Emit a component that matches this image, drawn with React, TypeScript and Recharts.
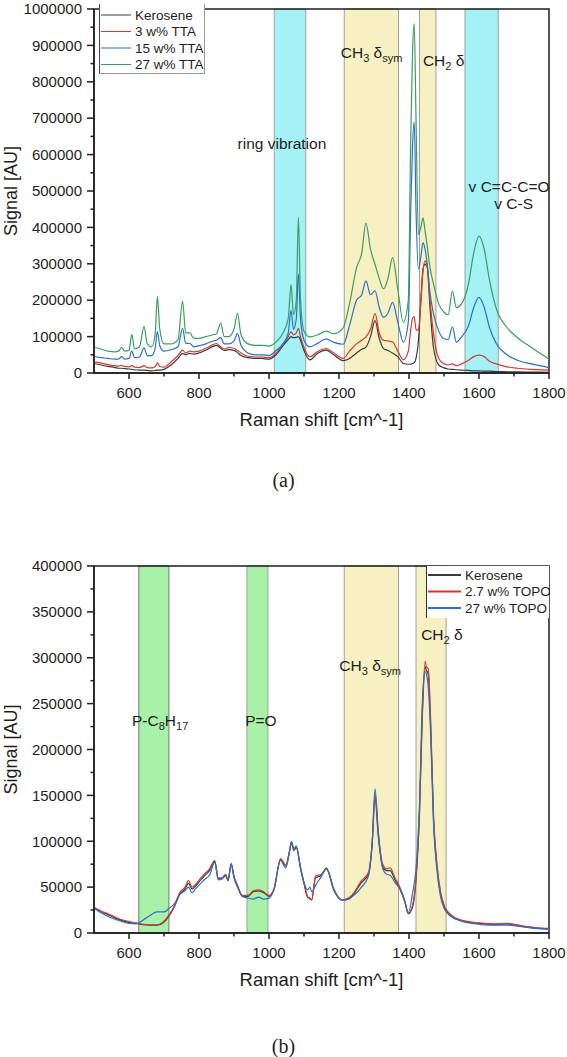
import React from "react";
import { ComposedChart, Line, XAxis, YAxis, ReferenceArea, Legend } from "recharts";

// ---- (a) kerosene + TTA spectra ----
const shiftA = [
  500, 520, 540, 560, 570, 579, 588, 600, 608, 616,
  630, 643, 652, 665, 675, 681, 688, 700, 720, 740,
  753, 762, 774, 785, 800, 820, 840, 850, 862, 872,
  885, 900, 910, 920, 940, 960, 980, 1000, 1020, 1040,
  1055, 1063, 1070, 1078, 1084, 1090, 1100, 1117, 1140, 1163,
  1185, 1212, 1230, 1250, 1265, 1277, 1290, 1303, 1315, 1327,
  1340, 1353, 1368, 1384, 1398, 1405, 1410, 1415, 1420, 1427,
  1434, 1440, 1446, 1452, 1460, 1470, 1485, 1500, 1512, 1524,
  1535, 1550, 1570, 1585, 1600, 1615, 1630, 1650, 1680, 1710,
  1750, 1800,
];
const keroseneA = [
  26000, 22000, 18000, 15000, 13000, 13000, 12000, 11000, 10000, 9000,
  8000, 8000, 7000, 6000, 7000, 8000, 8000, 10000, 22000, 40000,
  54000, 50000, 54000, 52000, 55000, 63000, 73000, 76000, 68000, 62000,
  64000, 62000, 56000, 48000, 42000, 40000, 40000, 38000, 50000, 75000,
  92000, 100000, 97000, 98000, 100000, 90000, 62000, 36000, 55000, 63000,
  50000, 34000, 40000, 55000, 65000, 71000, 100000, 144000, 95000, 67000,
  62000, 55000, 45000, 26000, 24000, 24000, 26000, 28000, 40000, 90000,
  200000, 285000, 299000, 290000, 180000, 70000, 22000, 14000, 11000, 10000,
  9000, 8000, 7000, 6000, 6000, 5000, 5000, 4000, 3500, 3000,
  2500, 2000,
];
const tta3 = [
  31000, 27000, 23000, 20000, 19000, 21000, 18000, 17000, 20000, 16000,
  15000, 20000, 15000, 14000, 18000, 28000, 18000, 16000, 30000, 48000,
  63000, 55000, 60000, 58000, 60000, 68000, 78000, 81000, 72000, 66000,
  70000, 68000, 62000, 55000, 46000, 44000, 44000, 42000, 55000, 80000,
  100000, 113000, 105000, 110000, 123000, 100000, 70000, 44500, 60000, 67000,
  55000, 40000, 60000, 80000, 90000, 99000, 120000, 163000, 110000, 90000,
  88000, 85000, 60000, 36000, 60000, 120000, 150000, 155000, 120000, 117000,
  200000, 280000, 308000, 295000, 200000, 108000, 40000, 25000, 22000, 25000,
  20000, 25000, 35000, 45000, 49000, 45000, 32000, 25000, 17000, 13000,
  10000, 8000,
];
const tta15 = [
  46000, 42000, 40000, 38000, 38000, 45000, 38000, 40000, 60000, 42000,
  44000, 69000, 48000, 48000, 70000, 114000, 75000, 60000, 64000, 72000,
  123000, 82000, 81000, 72000, 75000, 80000, 88000, 90000, 97000, 80000,
  80000, 88000, 108000, 76000, 55000, 50000, 50000, 48000, 62000, 80000,
  110000, 172000, 120000, 150000, 272000, 150000, 90000, 72000, 82000, 94000,
  84000, 79000, 130000, 200000, 215000, 253000, 215000, 226000, 180000, 153000,
  165000, 194000, 140000, 85000, 140000, 450000, 620000, 690000, 450000, 285000,
  320000, 358000, 340000, 300000, 220000, 163000, 115000, 94000, 92000, 127000,
  85000, 99000, 130000, 180000, 208000, 180000, 125000, 80000, 50000, 35000,
  25000, 15000,
];
const tta27 = [
  70000, 66000, 60000, 58000, 60000, 70000, 60000, 62000, 106000, 66000,
  72000, 128000, 80000, 72000, 110000, 210000, 120000, 80000, 80000, 92000,
  197000, 110000, 110000, 95000, 95000, 100000, 105000, 108000, 137000, 100000,
  100000, 120000, 164000, 105000, 80000, 76000, 76000, 74000, 85000, 110000,
  150000, 243000, 160000, 200000, 428000, 200000, 115000, 99000, 105000, 115000,
  108000, 124000, 190000, 289000, 330000, 412000, 340000, 298000, 260000, 231000,
  260000, 317000, 230000, 140000, 200000, 650000, 880000, 960000, 700000, 380000,
  400000, 426000, 390000, 350000, 290000, 244000, 190000, 167000, 160000, 226000,
  180000, 190000, 245000, 330000, 376000, 340000, 255000, 175000, 125000, 97000,
  70000, 38000,
];

// ---- (b) kerosene + TOPO spectra ----
const shiftB = [
  500, 520, 540, 560, 580, 600, 620, 640, 660, 680,
  700, 715, 730, 745, 760, 770, 780, 790, 805, 815,
  830, 845, 855, 865, 876, 883, 892, 900, 910, 924,
  940, 955, 970, 985, 1000, 1014, 1033, 1048, 1058, 1064,
  1071, 1078, 1090, 1100, 1110, 1117, 1122, 1133, 1150, 1164,
  1186, 1208, 1227, 1245, 1262, 1284, 1295, 1303, 1312, 1325,
  1336, 1346, 1360, 1374, 1388, 1398, 1410, 1420, 1430, 1438,
  1446, 1450, 1455, 1462, 1470, 1480, 1490, 1503, 1520, 1550,
  1600, 1650, 1680, 1720, 1760, 1800,
];
const keroseneB = [
  27500, 23500, 20000, 16500, 13500, 11500, 10500, 9000, 8500, 8500,
  12000, 19000, 29000, 42000, 48000, 54000, 48000, 51000, 58000, 62000,
  68000, 78000, 59000, 59000, 63000, 57000, 75000, 61000, 51000, 40000,
  40000, 45000, 46000, 44000, 40000, 47000, 80000, 73000, 88000, 98000,
  90000, 93000, 71000, 54000, 39000, 38000, 36000, 60000, 63000, 70000,
  46000, 36000, 37000, 44000, 54000, 64000, 98000, 148000, 106000, 72000,
  68000, 68000, 58000, 48000, 34000, 21000, 28000, 58000, 130000, 235000,
  290000, 286000, 282000, 225000, 125000, 72000, 43000, 27000, 19000, 13500,
  10500, 9500, 10000, 7500, 5500, 4500,
];
const topo2_7 = [
  28000, 24000, 21000, 17500, 14500, 12500, 11000, 9500, 9000, 9000,
  13000, 20000, 30000, 44000, 50000, 57000, 50000, 53000, 60000, 64000,
  70000, 79000, 60000, 60000, 64000, 58000, 76000, 62000, 52000, 41000,
  41000, 46000, 47000, 45000, 41000, 48000, 81000, 74000, 88000, 99000,
  91000, 94000, 72000, 55000, 40000, 37000, 36000, 62000, 64000, 70500,
  47000, 36000, 38000, 45000, 56000, 66000, 100000, 152000, 110000, 75000,
  70000, 71000, 60000, 50000, 35000, 21000, 30000, 60000, 135000, 240000,
  296000, 290000, 288000, 230000, 130000, 75000, 45000, 28000, 20000, 14000,
  11000, 10000, 10500, 8000, 6000, 5000,
];
const topo27 = [
  27000, 22000, 18000, 15000, 12500, 10500, 10000, 14000, 19000, 23000,
  23000, 27000, 32000, 42000, 46000, 50000, 44000, 48000, 54000, 58000,
  63000, 77000, 58000, 59000, 62000, 57000, 75000, 60000, 50000, 40000,
  38000, 37000, 39000, 37000, 38000, 47000, 79000, 71000, 87000, 100000,
  92000, 95000, 70000, 55000, 47000, 50000, 45000, 52000, 62000, 71000,
  47000, 36000, 37000, 42000, 49000, 62000, 100000, 157000, 112000, 70000,
  64000, 63000, 55000, 48000, 35000, 22000, 43000, 70000, 140000, 250000,
  285000, 282000, 268000, 215000, 120000, 68000, 40000, 25000, 18000, 13000,
  9500, 8500, 8500, 7000, 5000, 4000,
];

const xTicks = [600, 700, 800, 900, 1000, 1100, 1200, 1300, 1400, 1500, 1600, 1700, 1800];
const yTicksA = [
  0, 50000, 100000, 150000, 200000, 250000, 300000, 350000, 400000, 450000, 500000,
  550000, 600000, 650000, 700000, 750000, 800000, 850000, 900000, 950000, 1000000,
];
const yTicksB = [
  0, 25000, 50000, 75000, 100000, 125000, 150000, 175000, 200000,
  225000, 250000, 275000, 300000, 325000, 350000, 375000, 400000,
];

const rowsA = shiftA.map((s, i) => ({
  shift: s,
  kerosene: keroseneA[i],
  tta3: tta3[i],
  tta15: tta15[i],
  tta27: tta27[i],
}));
const rowsB = shiftB.map((s, i) => ({
  shift: s,
  kerosene: keroseneB[i],
  topo2_7: topo2_7[i],
  topo27: topo27[i],
}));

const INK = "#1e1e1e";
const CYAN = "#a4f1f6";
const SAND = "#f6f0c2";
const MINT = "#a9f0a9";
const EDGE = "#a0a0a0";

// series order = draw order = legend order
const seriesA = [
  { key: "kerosene", name: "Kerosene", color: "#3a3a3a" },
  { key: "tta3", name: "3 w% TTA", color: "#d23a32" },
  { key: "tta15", name: "15 w% TTA", color: "#2a70c6" },
  { key: "tta27", name: "27 w% TTA", color: "#3c9d62" },
];
const seriesB = [
  { key: "kerosene", name: "Kerosene", color: "#3a3a3a" },
  { key: "topo2_7", name: "2.7 w% TOPO", color: "#d23a32" },
  { key: "topo27", name: "27 w% TOPO", color: "#2a70c6" },
];

const XTick = (props: any) => {
  const { x, y, payload } = props;
  const major = payload.value % 200 === 0;
  return (
    <g>
      <line x1={x} x2={x} y1={y} y2={y + (major ? 6 : 3.5)} stroke={INK} strokeWidth={1.5} />
      {major && (
        <text x={x} y={y + 25} textAnchor="middle" fontSize={15} fill={INK}>
          {payload.value}
        </text>
      )}
    </g>
  );
};

const makeYTick = (step: number) => (props: any) => {
  const { x, y, payload } = props;
  const major = payload.value % step === 0;
  return (
    <g>
      <line x1={x - (major ? 7 : 3.5)} x2={x} y1={y} y2={y} stroke={INK} strokeWidth={1.5} />
      {major && (
        <text x={x - 12} y={y} dy="0.35em" textAnchor="end" fontSize={15} fill={INK}>
          {payload.value}
        </text>
      )}
    </g>
  );
};

const XTitle = ({ viewBox }: any) => (
  <text x={viewBox.x + viewBox.width / 2} y={viewBox.y + 53} textAnchor="middle" fontSize={18.5} fill={INK}>
    Raman shift [cm^-1]
  </text>
);

const YTitle = ({ viewBox }: any) => {
  const cy = viewBox.y + viewBox.height / 2;
  return (
    <text transform={`translate(17, ${cy}) rotate(-90)`} textAnchor="middle" fontSize={18} fill={INK}>
      Signal [AU]
    </text>
  );
};

// centred annotation text; rendered as the label of a tiny invisible area
const Note = ({ viewBox, children }: any) => (
  <text
    x={viewBox.x + viewBox.width / 2}
    y={viewBox.y + viewBox.height / 2}
    dy="0.35em"
    textAnchor="middle"
    fontSize={15.5}
    fill={INK}
  >
    {children}
  </text>
);

const note = (key: string, cx: number, cy: number, body: React.ReactNode) => (
  <ReferenceArea
    key={key}
    x1={cx - 1}
    x2={cx + 1}
    y1={cy - 1}
    y2={cy + 1}
    fill="none"
    stroke="none"
    ifOverflow="visible"
    label={<Note>{body}</Note>}
  />
);

const ch3 = (
  <>
    <tspan>CH</tspan>
    <tspan fontSize={11} dy={4}>3</tspan>
    <tspan dy={-4}> δ</tspan>
    <tspan fontSize={11} dy={4}>sym</tspan>
  </>
);
const ch2 = (
  <>
    <tspan>CH</tspan>
    <tspan fontSize={11} dy={4}>2</tspan>
    <tspan dy={-4}> δ</tspan>
  </>
);
const pc8 = (
  <>
    <tspan>P-C</tspan>
    <tspan fontSize={11} dy={4}>8</tspan>
    <tspan dy={-4}>H</tspan>
    <tspan fontSize={11} dy={4}>17</tspan>
  </>
);

const legendBox = (
  items: { name: string; color: string }[],
  w: number,
  h: number,
  lineLen: number,
  top: number,
  lw: number,
  border: React.CSSProperties
) => () => (
  <div style={{ width: w, height: h, background: "#fff", boxSizing: "border-box", ...border }}>
    <svg width={w} height={h} style={{ display: "block" }}>
      {items.map((it, i) => (
        <g key={it.name}>
          <line x1={1} x2={lineLen} y1={top + i * 16.5} y2={top + i * 16.5} stroke={it.color} strokeWidth={lw} />
          <text x={lineLen + 4} y={top + i * 16.5} dy="0.35em" fontSize={13.5} fill={INK}>
            {it.name}
          </text>
        </g>
      ))}
    </svg>
  </div>
);

const band = (key: string, x1: number, x2: number, fill: string, stroke = EDGE) => (
  <ReferenceArea key={key} x1={x1} x2={x2} fill={fill} fillOpacity={1} stroke={stroke} strokeWidth={1} />
);

const frame = (yMax: number) => (
  <ReferenceArea x1={500} x2={1800} y1={0} y2={yMax} fill="none" stroke={INK} strokeWidth={1.5} />
);

const axisProps = {
  tickSize: 0,
  tickMargin: 0,
  tickLine: false,
  interval: 0 as const,
  axisLine: { stroke: INK, strokeWidth: 1.5 },
};

const font = '"Liberation Sans", Arial, sans-serif';
const serif = '"Liberation Serif", "Times New Roman", serif';

export default function App() {
  return (
    <div style={{ position: "absolute", left: 0, top: 0, width: 567, height: 1057, background: "#fff", fontFamily: font }}>
      <div style={{ position: "absolute", left: 0, top: 0 }}>
        <ComposedChart width={567} height={440} data={rowsA} margin={{ top: 9, right: 18, bottom: 0, left: 8 }}>
          {band("ring", 1015, 1105, CYAN)}
          {band("ch3", 1215, 1370, SAND)}
          {band("ch2", 1430, 1477, SAND)}
          {band("ccco", 1560, 1655, CYAN)}
          {frame(1000000)}
          <XAxis
            type="number"
            dataKey="shift"
            domain={[500, 1800]}
            ticks={xTicks}
            height={67}
            tick={XTick}
            label={<XTitle />}
            {...axisProps}
          />
          <YAxis
            type="number"
            domain={[0, 1000000]}
            ticks={yTicksA}
            width={86}
            tick={makeYTick(100000)}
            label={<YTitle />}
            {...axisProps}
          />
          {seriesA.map((s) => (
            <Line
              key={s.key}
              type="monotone"
              dataKey={s.key}
              name={s.name}
              stroke={s.color}
              strokeWidth={1.2}
              dot={false}
              isAnimationActive={false}
            />
          ))}
          {note("ring-t", 1037, 629000, "ring vibration")}
          {note("ch3-t", 1293, 880000, ch3)}
          {note("ch2-t", 1499, 858000, ch2)}
          {note("ccco-t", 1686, 512000, "v C=C-C=O")}
          {note("cs-t", 1699, 465000, "v C-S")}
          <Legend
            layout="horizontal"
            align="center"
            verticalAlign="middle"
            wrapperStyle={{ left: 99, top: 4, width: 106, height: 70 }}
            content={legendBox(seriesA, 106, 70, 31, 11, 1, {
              borderLeft: "1.5px solid #444",
              borderRight: "1px solid #999",
              borderBottom: "1px solid #999",
            })}
          />
        </ComposedChart>
      </div>
      <div style={{ position: "absolute", left: 0, top: 466, width: 567, textAlign: "center", fontFamily: serif, fontSize: 20, lineHeight: "28px", color: INK }}>
        (a)
      </div>

      <div style={{ position: "absolute", left: 0, top: 550 }}>
        <ComposedChart width={567} height={450} data={rowsB} margin={{ top: 16, right: 18, bottom: 0, left: 8 }}>
          {band("pc8", 628, 714, MINT, "#777")}
          {band("po", 937, 997, MINT)}
          {band("ch3", 1215, 1370, SAND)}
          {band("ch2", 1420, 1506, SAND)}
          {frame(400000)}
          <XAxis
            type="number"
            dataKey="shift"
            domain={[500, 1800]}
            ticks={xTicks}
            height={67}
            tick={XTick}
            label={<XTitle />}
            {...axisProps}
          />
          <YAxis
            type="number"
            domain={[0, 400000]}
            ticks={yTicksB}
            width={86}
            tick={makeYTick(50000)}
            label={<YTitle />}
            {...axisProps}
          />
          {seriesB.map((s) => (
            <Line
              key={s.key}
              type="monotone"
              dataKey={s.key}
              name={s.name}
              stroke={s.color}
              strokeWidth={1.2}
              dot={false}
              isAnimationActive={false}
            />
          ))}
          {note("pc8-t", 689, 232000, pc8)}
          {note("po-t", 977, 232000, "P=O")}
          {note("ch3-t", 1289, 292000, ch3)}
          {note("ch2-t", 1494, 325000, ch2)}
          <Legend
            layout="horizontal"
            align="center"
            verticalAlign="middle"
            wrapperStyle={{ left: 426, top: 16, width: 123, height: 52 }}
            content={legendBox(seriesB, 123, 52, 34, 9, 1.8, { borderLeft: "1.5px solid #333" })}
          />
        </ComposedChart>
      </div>
      <div style={{ position: "absolute", left: 0, top: 1032, width: 567, textAlign: "center", fontFamily: serif, fontSize: 20, lineHeight: "28px", color: INK }}>
        (b)
      </div>
    </div>
  );
}
